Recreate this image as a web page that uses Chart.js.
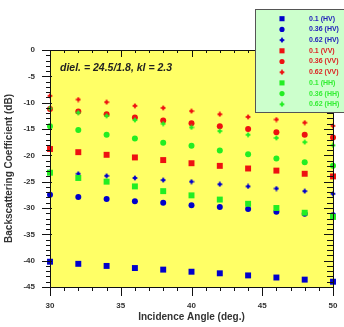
<!DOCTYPE html>
<html>
<head>
<meta charset="utf-8">
<script src="https://cdn.jsdelivr.net/npm/chart.js@4/dist/chart.umd.min.js"></script>
<style>
  html, body { margin: 0; padding: 0; background: #fff; }
  #wrap { width: 344px; height: 327px; }
</style>
</head>
<body>
<div id="wrap"><canvas id="chart" width="344" height="327"></canvas></div>
<script>
// incidence angles (deg.)
const angles = [30, 32, 34, 36, 38, 40, 42, 44, 46, 48, 50];

// backscattering coefficient (dB)
const hv01  = [-40.2, -40.6, -41.0, -41.4, -41.7, -42.1, -42.4, -42.8, -43.2, -43.6, -44.0];
const hv036 = [-27.5, -27.9, -28.3, -28.7, -29.0, -29.5, -29.8, -30.2, -30.7, -31.1, -31.4];
const hv062 = [-23.2, -23.5, -23.9, -24.3, -24.7, -25.0, -25.5, -25.9, -26.3, -26.8, -27.3];
const vv01  = [-18.8, -19.4, -19.9, -20.4, -20.9, -21.5, -22.0, -22.5, -22.9, -23.5, -24.0];
const vv036 = [-11.2, -11.7, -12.2, -12.8, -13.4, -13.9, -14.5, -15.0, -15.6, -16.1, -16.6];
const vv062 = [-8.7, -9.4, -9.9, -10.6, -11.0, -11.6, -12.2, -12.7, -13.2, -13.8, -14.4];
const hh01  = [-23.3, -24.3, -25.0, -25.9, -26.8, -27.6, -28.4, -29.2, -30.0, -30.9, -31.7];
const hh036 = [-14.5, -15.2, -16.1, -16.8, -17.6, -18.2, -19.1, -19.8, -20.6, -21.3, -22.0];
const hh062 = [-11.1, -11.9, -12.5, -13.3, -14.0, -14.7, -15.4, -16.1, -16.7, -17.5, -18.1];

const seriesLabels = ['0.1 (HV)', '0.36 (HV)', '0.62 (HV)', '0.1 (VV)', '0.36 (VV)', '0.62 (VV)', '0.1 (HH)', '0.36 (HH)', '0.62 (HH)'];
const seriesValues = [hv01, hv036, hv062, vv01, vv036, vv062, hh01, hh036, hh062];
const annotation = 'diel. = 24.5/1.8, kl = 2.3';

const BLUE = '#0000cc', RED = '#ee1111', GREEN = '#22ee22';
const textColors = { [BLUE]: '#2222bb', [RED]: '#dd2222', [GREEN]: '#33ee33' };

// small 4-point star marker
function starMarker(color) {
  const c = document.createElement('canvas');
  c.width = 6; c.height = 6;
  const g = c.getContext('2d');
  g.fillStyle = color;
  g.beginPath();
  const cx = 3, cy = 3, ro = 3, ri = 1.6;
  for (let i = 0; i < 8; i++) {
    const a = i * Math.PI / 4 - Math.PI / 2;
    const r = i % 2 === 0 ? ro : ri;
    g.lineTo(cx + r * Math.cos(a), cy + r * Math.sin(a));
  }
  g.closePath();
  g.fill();
  return c;
}

const colors = [BLUE, BLUE, BLUE, RED, RED, RED, GREEN, GREEN, GREEN];
const styles = colors.map((col, i) => i % 3 === 0 ? 'rect' : (i % 3 === 1 ? 'circle' : starMarker(col)));
const radii = [4.2, 3, 3, 4.2, 3, 3, 4.2, 3, 3];
const drawOrder = [2, 2, 2, 1, 1, 1, 0, 0, 0];

const datasets = seriesValues.map((vals, i) => ({
  label: seriesLabels[i],
  data: angles.map((a, j) => ({ x: a, y: vals[j] })),
  backgroundColor: colors[i],
  borderColor: colors[i],
  borderWidth: 0,
  pointStyle: styles[i],
  pointRadius: radii[i],
  order: drawOrder[i],
  clip: false
}));

const frame = {
  id: 'frame',
  beforeDatasetsDraw(chart) {
    const { ctx, chartArea: a } = chart;
    ctx.save();
    ctx.fillStyle = '#ffff66';
    ctx.fillRect(a.left, a.top, a.right - a.left, a.bottom - a.top);
    ctx.fillStyle = '#222';
    ctx.font = 'italic bold 10.5px "Liberation Sans", Arial, sans-serif';
    ctx.textBaseline = 'middle';
    ctx.fillText(annotation, a.left + 10, 68);
    ctx.restore();
  },
  afterDatasetsDraw(chart) {
    const { ctx, chartArea: a, scales: { x, y } } = chart;
    ctx.save();
    ctx.strokeStyle = '#111';
    ctx.lineWidth = 1;
    ctx.beginPath();
    ctx.rect(Math.round(a.left) + 0.5, Math.round(a.top) + 0.5, Math.round(a.right - a.left), Math.round(a.bottom - a.top));
    for (let v = 30; v <= 50; v++) {
      const px = Math.round(x.getPixelForValue(v)) + 0.5;
      const major = v % 5 === 0;
      ctx.moveTo(px, a.bottom); ctx.lineTo(px, a.bottom + (major ? 9 : 4));
      ctx.moveTo(px, a.top); ctx.lineTo(px, a.top + (major ? 7 : 3));
    }
    for (let v = -45; v <= 0; v++) {
      const py = Math.round(y.getPixelForValue(v)) + 0.5;
      const major = v % 5 === 0;
      ctx.moveTo(a.left + (major ? 2 : 0), py); ctx.lineTo(a.left - (major ? 8 : 4), py);
      ctx.moveTo(a.right, py); ctx.lineTo(a.right - (major ? 9 : 6), py);
    }
    ctx.stroke();
    ctx.restore();
  },
  afterDraw(chart) {
    const { ctx } = chart;
    ctx.save();
    ctx.fillStyle = '#ccffcc';
    ctx.strokeStyle = '#555';
    ctx.lineWidth = 1;
    ctx.fillRect(255.5, 9.5, 100, 103);
    ctx.strokeRect(255.5, 9.5, 100, 103);
    ctx.font = 'bold 7px "Liberation Sans", Arial, sans-serif';
    ctx.textBaseline = 'middle';
    seriesLabels.forEach((lab, i) => {
      const ry = 18.7 + i * 10.7;
      ctx.fillStyle = colors[i];
      ctx.strokeStyle = colors[i];
      Chart.helpers.drawPoint(ctx, { pointStyle: styles[i], radius: i % 3 === 0 ? 3.6 : (i % 3 === 1 ? 2.6 : 3), rotation: 0, borderWidth: 0 }, 282, ry);
      ctx.fillStyle = textColors[colors[i]];
      ctx.fillText(lab, 309, ry);
    });
    ctx.restore();
  }
};

const tickFont = { family: '"Liberation Sans", Arial, sans-serif', size: 8, weight: 'bold' };
const titleFont = { family: '"Liberation Sans", Arial, sans-serif', size: 10, weight: 'bold' };

new Chart(document.getElementById('chart').getContext('2d'), {
  type: 'scatter',
  data: { datasets },
  options: {
    responsive: false,
    animation: false,
    layout: { padding: { top: 50, right: 11, left: 0, bottom: 0 } },
    plugins: { legend: { display: false }, tooltip: { enabled: false } },
    scales: {
      x: {
        type: 'linear',
        min: 30,
        max: 50,
        grid: { display: false, drawTicks: false },
        border: { display: false },
        ticks: { stepSize: 5, font: tickFont, color: '#333', padding: 14, maxRotation: 0 },
        title: { display: true, text: 'Incidence Angle (deg.)', font: titleFont, color: '#333', padding: { top: 0, bottom: 4 } },
        afterFit(s) { s.height = 40; s.paddingLeft = 0; s.paddingRight = 0; }
      },
      y: {
        min: -45,
        max: 0,
        grid: { display: false, drawTicks: false },
        border: { display: false },
        ticks: { stepSize: 5, font: tickFont, color: '#333', padding: 15 },
        title: { display: true, text: 'Backscattering Coefficient (dB)', font: titleFont, color: '#333', padding: { top: 3, bottom: 0 } },
        afterFit(s) { s.width = 50; s.paddingTop = 0; s.paddingBottom = 0; }
      }
    }
  },
  plugins: [frame]
});
</script>
</body>
</html>
